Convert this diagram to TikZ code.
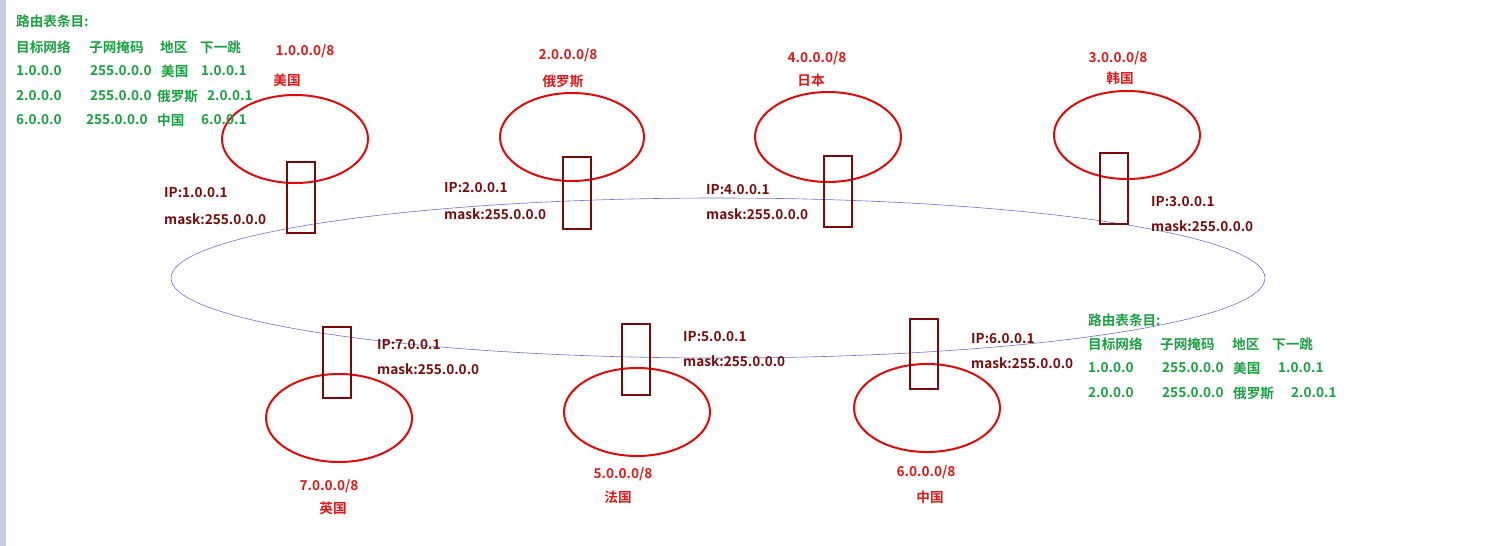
\documentclass[tikz,border=0pt]{standalone}
\usepackage{fontspec}
\setmainfont{Noto Sans CJK SC Bold}
\begin{document}
\begin{tikzpicture}[x=1pt,y=-1pt,
  every node/.style={inner sep=0pt,font=\fontsize{13.6}{14}\selectfont},
  g/.style={anchor=west,text=tgreen},
  lbl/.style={anchor=west,text=dred},
  rl/.style={text=tred},
  country/.style={draw=cred,line width=2pt},
  port/.style={draw=dred,line width=2pt},
  ring/.style={draw=rblue,line width=0.6pt}]
\definecolor{tgreen}{HTML}{1AA040}
\definecolor{dred}{HTML}{7A0A0A}
\definecolor{tred}{HTML}{E01818}
\definecolor{cred}{HTML}{E00A0A}
\definecolor{rblue}{HTML}{7070D0}
\useasboundingbox (0,0) rectangle (1508,546);
\fill[fill={rgb,255:red,200;green,208;blue,224}] (0,0) rectangle (6,546);
\draw[ring] (718,278) ellipse[x radius=547,y radius=80];
% countries
\draw[country] (295,139) ellipse[x radius=73,y radius=44];
\draw[country] (572,137) ellipse[x radius=72,y radius=44];
\draw[country] (828,137) ellipse[x radius=73,y radius=45];
\draw[country] (1127,135) ellipse[x radius=73,y radius=44];
\draw[country] (339,418) ellipse[x radius=73,y radius=44];
\draw[country] (637,412) ellipse[x radius=73,y radius=44];
\draw[country] (927,408) ellipse[x radius=73,y radius=44];
% ports
\draw[port] (287,162) rectangle (315,233);
\draw[port] (563,157) rectangle (591,229);
\draw[port] (824,156) rectangle (852,227);
\draw[port] (1100,153) rectangle (1128,224);
\draw[port] (323,327) rectangle (351,398);
\draw[port] (622,324) rectangle (650,395);
\draw[port] (910,319) rectangle (938,389);
% ip labels
\node[lbl] (ip1) at (164,193) {IP:1.0.0.1}; \node[lbl] (m1) at (164,219) {mask:255.0.0.0};
\node[lbl] (ip2) at (444,188) {IP:2.0.0.1}; \node[lbl] (m2) at (444,214) {mask:255.0.0.0};
\node[lbl] (ip4) at (706,190) {IP:4.0.0.1}; \node[lbl] (m4) at (706,214) {mask:255.0.0.0};
\node[lbl] (ip3) at (1151,202) {IP:3.0.0.1}; \node[lbl] (m3) at (1151,226) {mask:255.0.0.0};
\node[lbl] (ip7) at (377,345) {IP:7.0.0.1}; \node[lbl] (m7) at (377,369) {mask:255.0.0.0};
\node[lbl] (ip5) at (683,337) {IP:5.0.0.1}; \node[lbl] (m5) at (683,361) {mask:255.0.0.0};
\node[lbl] (ip6) at (971,339) {IP:6.0.0.1}; \node[lbl] (m6) at (971,363) {mask:255.0.0.0};
% red labels
\node[rl] (n1) at (305,51) {1.0.0.0/8}; \node[rl] (c1) at (287,80) {美国};
\node[rl] (n2) at (568,55) {2.0.0.0/8}; \node[rl] (c2) at (563,81) {俄罗斯};
\node[rl] (n4) at (817,58) {4.0.0.0/8}; \node[rl] (c4) at (811,80) {日本};
\node[rl] (n3) at (1118,58) {3.0.0.0/8}; \node[rl] (c3) at (1120,78) {韩国};
\node[rl] (n7) at (329,486) {7.0.0.0/8}; \node[rl] (c7) at (333,508) {英国};
\node[rl] (n5) at (623,474) {5.0.0.0/8}; \node[rl] (c5) at (618,497) {法国};
\node[rl] (n6) at (926,472) {6.0.0.0/8}; \node[rl] (c6) at (930,497) {中国};
% left table
\node[g] (t0) at (16,21) {路由表条目:};
\node[g] at (16,47) {目标网络}; \node[g] at (89,47) {子网掩码}; \node[g] at (160,47) {地区}; \node[g] at (200,47) {下一跳};
\node[g] at (16,71) {1.0.0.0}; \node[g] at (90,71) {255.0.0.0}; \node[g] at (161,71) {美国}; \node[g] at (201,71) {1.0.0.1};
\node[g] at (16,96) {2.0.0.0}; \node[g] at (90,96) {255.0.0.0}; \node[g] at (157,96) {俄罗斯}; \node[g] at (207,96) {2.0.0.1};
\node[g] at (16,120) {6.0.0.0}; \node[g] at (86,120) {255.0.0.0}; \node[g] at (157,120) {中国}; \node[g] at (201,120) {6.0.0.1};
% right table
\node[g] (r0) at (1088,320) {路由表条目:};
\node[g] at (1088,344) {目标网络}; \node[g] at (1160,344) {子网掩码}; \node[g] at (1232,344) {地区}; \node[g] at (1272,344) {下一跳};
\node[g] at (1088,368) {1.0.0.0}; \node[g] at (1162,368) {255.0.0.0}; \node[g] at (1233,368) {美国}; \node[g] at (1278,368) {1.0.0.1};
\node[g] at (1088,393) {2.0.0.0}; \node[g] at (1162,393) {255.0.0.0}; \node[g] at (1233,393) {俄罗斯}; \node[g] at (1291,393) {2.0.0.1};
\end{tikzpicture}
\end{document}
